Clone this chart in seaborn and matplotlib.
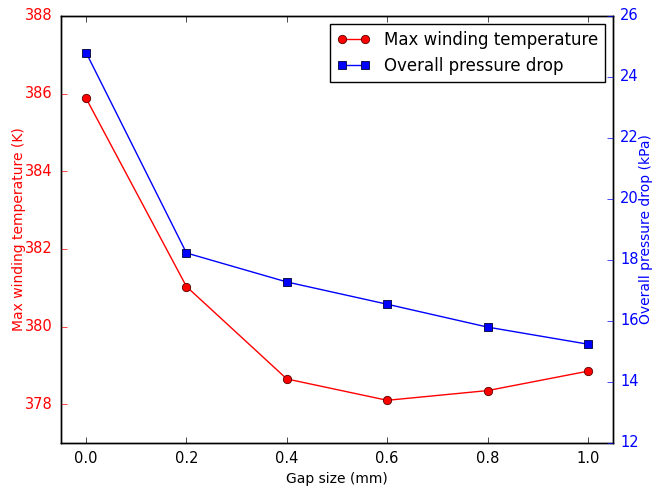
import matplotlib
matplotlib.use("Agg")
import matplotlib.pyplot as plt
import pandas as pd
import seaborn as sns

# values
gap_size = [0.0, 0.2, 0.4, 0.6, 0.8, 1.0]
max_temp = [385.88, 381.03, 378.65, 378.10, 378.35, 378.85]
pressure_drop = [24.80, 18.23, 17.28, 16.55, 15.80, 15.24]

df = pd.DataFrame({"gap": gap_size, "temp": max_temp, "dp": pressure_drop})

plt.style.use("classic")
plt.rcParams["font.family"] = ["DejaVu Sans"]

fig = plt.figure(figsize=(6.55, 4.87), dpi=100, facecolor="white")
ax1 = fig.add_axes([61 / 655, 1 - 443 / 487, 552 / 655, 427 / 487])
ax2 = ax1.twinx()

sns.lineplot(data=df, x="gap", y="temp", ax=ax1, color="red", marker="o",
             markersize=6, markeredgecolor="#550000", markeredgewidth=0.6,
             linewidth=1, legend=False, label="Max winding temperature")
sns.lineplot(data=df, x="gap", y="dp", ax=ax2, color="blue", marker="s",
             markersize=6, markeredgecolor="#000033", markeredgewidth=0.6,
             linewidth=1, legend=False, label="Overall pressure drop")

ax1.set_xlim(-0.05, 1.05)
ax1.set_ylim(377, 388)
ax2.set_ylim(12, 26)
ax1.set_xticks([0.0, 0.2, 0.4, 0.6, 0.8, 1.0])
ax1.set_yticks([378, 380, 382, 384, 386, 388])
ax2.set_yticks([12, 14, 16, 18, 20, 22, 24, 26])

ax1.set_xlabel("Gap size (mm)", fontsize=10, labelpad=4)
ax1.set_ylabel("Max winding temperature (K)", color="red", fontsize=10,
               labelpad=-1)
ax2.set_ylabel("Overall pressure drop (kPa)", color="blue", fontsize=10,
               labelpad=0)
ax1.tick_params(axis="y", colors="red", labelsize=10.5, pad=6)
ax1.tick_params(axis="x", labelsize=10.5, pad=6)
ax2.tick_params(axis="y", colors="blue", labelsize=10.5, pad=5)
ax2.set_facecolor("none")
ax1.set_facecolor("white")

handles = [ax1.lines[0], ax2.lines[0]]
labels = ["Max winding temperature", "Overall pressure drop"]
ax2.legend(handles, labels, loc="upper right", fontsize=12, numpoints=2,
           fancybox=False)

fig.savefig("out.png", dpi=100, facecolor="white")
